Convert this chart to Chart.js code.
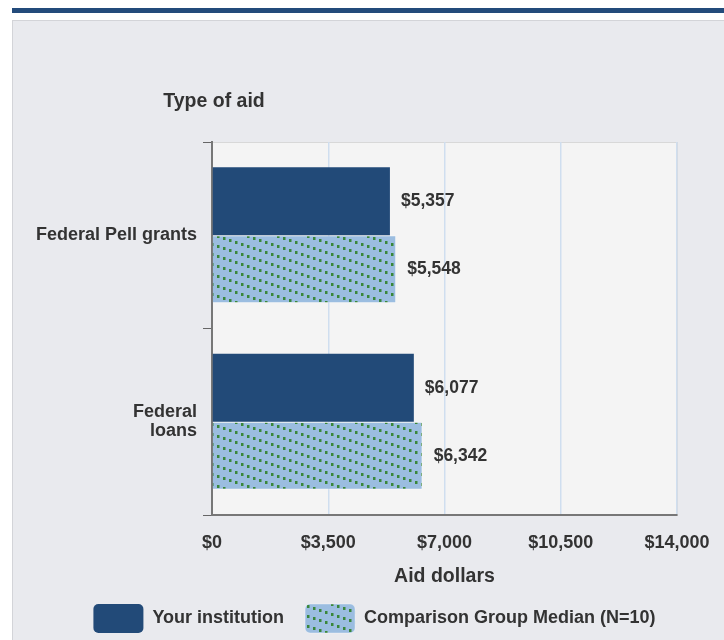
<!DOCTYPE html>
<html>
<head>
<meta charset="utf-8">
<script src="https://cdn.jsdelivr.net/npm/chart.js@4.4.0/dist/chart.umd.min.js"></script>
<style>
  html, body { margin: 0; padding: 0; background: #fff; }
  body { width: 724px; height: 640px; position: relative; overflow: hidden; font-family: "Liberation Sans", Arial, sans-serif; }
  .topbar { position: absolute; left: 12px; top: 8px; width: 712px; height: 5px; background: #234b7b; }
  .panel { position: absolute; left: 12px; top: 20px; width: 720px; height: 640px; background: #e9eaee; border: 1px solid #d3d4d8; }
  #chart { position: absolute; left: 0; top: 0; }
</style>
</head>
<body>
<div class="topbar"></div>
<div class="panel"></div>
<canvas id="chart" width="724" height="640"></canvas>
<script>
// データ
const categories = [['Federal Pell grants'], ['Federal', 'loans']];
const yourInstitution = [5357, 6077];
const comparisonMedian = [5548, 6342];
const xTicks = [0, 3500, 7000, 10500, 14000];
const seriesNames = ['Your institution', 'Comparison Group Median (N=10)'];

const TEXT = '#333333';
const FONT = '"Liberation Sans", Arial, sans-serif';

// 斜めドット模様
function makePattern() {
    const tile = document.createElement('canvas');
    tile.width = 30;
    tile.height = 10;
    const c = tile.getContext('2d');
    c.fillStyle = '#9bbde0';
    c.fillRect(0, 0, 30, 10);
    c.fillStyle = '#3a873a';
    for (let dy = -10; dy <= 10; dy += 10) {
        for (let x = 0; x < 30; x += 6) {
            const y = x / 3 + dy;
            c.fillRect(x + 1, y + 3, 2.5, 3);
        }
    }
    return document.getElementById('chart').getContext('2d').createPattern(tile, 'repeat');
}
const pattern = makePattern();

function money(v) {
    return '$' + v.toLocaleString('en-US');
}

// プロット背景
const plotBg = {
    id: 'plotBg',
    beforeDraw(chart) {
        const { ctx, chartArea: a } = chart;
        ctx.save();
        ctx.fillStyle = '#f4f4f4';
        ctx.fillRect(a.left, a.top, a.right - a.left, a.bottom - a.top);
        ctx.strokeStyle = '#d8d8d8';
        ctx.lineWidth = 1;
        ctx.strokeRect(a.left + 0.5, a.top + 0.5, a.right - a.left, a.bottom - a.top);
        ctx.restore();
    }
};

// 凡例を少し右へ寄せる
const legendShift = {
    id: 'legendShift',
    afterLayout(chart) {
        chart.legend.left += 36;
        chart.legend.right += 36;
    }
};

// 値ラベルと軸タイトル
const labelsPlugin = {
    id: 'labelsPlugin',
    afterDatasetsDraw(chart) {
        const { ctx, chartArea: a } = chart;
        ctx.save();
        ctx.fillStyle = TEXT;
        ctx.font = 'bold 17.5px ' + FONT;
        ctx.textAlign = 'left';
        ctx.textBaseline = 'middle';
        chart.data.datasets.forEach((ds, i) => {
            chart.getDatasetMeta(i).data.forEach((bar, j) => {
                ctx.fillText(money(ds.data[j]), bar.x + 11, bar.y);
            });
        });
        ctx.font = 'bold 19.5px ' + FONT;
        ctx.textAlign = 'center';
        ctx.fillText('Type of aid', a.left + 2, 102);
        ctx.restore();
    }
};

new Chart(document.getElementById('chart'), {
    type: 'bar',
    data: {
        labels: categories,
        datasets: [{
            label: seriesNames[0],
            data: yourInstitution,
            backgroundColor: '#224a78',
            borderWidth: 0,
            barPercentage: 1,
            categoryPercentage: 0.728
        }, {
            label: seriesNames[1],
            data: comparisonMedian,
            backgroundColor: pattern,
            borderColor: 'rgba(255,255,255,0.35)',
            borderWidth: 1,
            barPercentage: 1,
            categoryPercentage: 0.728
        }]
    },
    options: {
        indexAxis: 'y',
        responsive: false,
        animation: false,
        layout: { padding: { top: 142, right: 47, left: 0, bottom: -3 } },
        scales: {
            x: {
                min: 0,
                max: 14000,
                afterBuildTicks: axis => { axis.ticks = xTicks.map(v => ({ value: v })); },
                afterFit: axis => { axis.height = 68; },
                grid: { color: '#cfdeef', lineWidth: 1.5, drawTicks: true, tickLength: 14, tickColor: 'rgba(0,0,0,0)' },
                border: { color: '#777777', width: 2 },
                ticks: {
                    color: TEXT,
                    padding: 3,
                    font: { family: FONT, size: 18, weight: 'bold' },
                    callback: v => money(v)
                },
                title: {
                    display: true,
                    text: 'Aid dollars',
                    color: TEXT,
                    padding: { top: 4, bottom: -5 },
                    font: { family: FONT, size: 19.5, weight: 'bold' }
                }
            },
            y: {
                afterFit: axis => { axis.width = 212; },
                grid: { drawOnChartArea: false, color: '#666666', tickLength: 9, offset: true },
                border: { color: '#777777', width: 2 },
                ticks: {
                    color: TEXT,
                    padding: 6,
                    font: { family: FONT, size: 18, weight: 'bold', lineHeight: 1.08 }
                }
            }
        },
        plugins: {
            legend: {
                position: 'bottom',
                labels: {
                    boxWidth: 50,
                    boxHeight: 29,
                    padding: 21,
                    color: TEXT,
                    useBorderRadius: true,
                    borderRadius: 5,
                    font: { family: FONT, size: 18, weight: 'bold' }
                }
            },
            tooltip: { enabled: false }
        }
    },
    plugins: [plotBg, legendShift, labelsPlugin]
});
</script>
</body>
</html>
